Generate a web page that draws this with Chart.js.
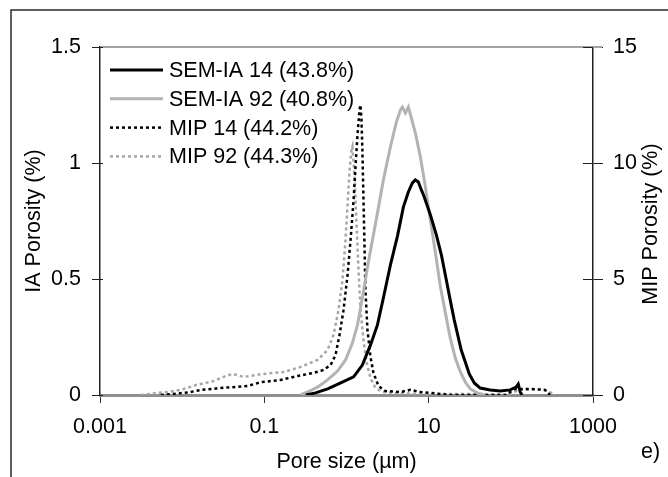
<!DOCTYPE html>
<html>
<head>
<meta charset="utf-8">
<script src="https://cdn.jsdelivr.net/npm/chart.js@4/dist/chart.umd.min.js"></script>
<style>
  html, body { margin: 0; padding: 0; background: #fff; }
  canvas { display: block; }
</style>
</head>
<body>
<canvas id="chart" width="668" height="477" style="width:668px;height:477px"></canvas>
<script>
// Pore size distributions: image analysis (left axis) and mercury intrusion (right axis)
const seriesNames = ['SEM-IA 14 (43.8%)', 'SEM-IA 92 (40.8%)', 'MIP 14 (44.2%)', 'MIP 92 (44.3%)'];

// SEM-IA 14: pore size (µm) / IA porosity (%)
const sem14Size  = [0.32, 0.42, 0.59, 0.85, 1.22, 1.56, 1.96, 2.38, 2.81, 3.42, 4.17, 4.92, 5.66, 6.34, 6.89, 7.49, 8.15, 8.7, 8.9, 10.5, 12.4, 14.3, 16.4, 18.3, 20.5, 22.3, 24.9, 27.9, 31.2, 35.9, 42.4, 56.1, 74.3, 98.2, 116, 123, 130, 137];
const sem14Value = [0, 0.009, 0.026, 0.052, 0.078, 0.129, 0.216, 0.302, 0.418, 0.560, 0.685, 0.810, 0.875, 0.914, 0.927, 0.918, 0.884, 0.86, 0.85, 0.776, 0.690, 0.603, 0.496, 0.409, 0.323, 0.267, 0.194, 0.142, 0.091, 0.052, 0.030, 0.022, 0.017, 0.022, 0.034, 0.047, 0.013, 0];

// SEM-IA 92
const sem92Size  = [0.276, 0.336, 0.444, 0.588, 0.778, 0.973, 1.18, 1.36, 1.56, 1.80, 2.07, 2.38, 2.81, 3.42, 4.05, 4.53, 4.79, 5.21, 5.66, 6.16, 6.89, 7.93, 9.12, 10.5, 12.1, 13.9, 16.0, 18.3, 21.1, 24.3, 27.9, 32.1, 39.0, 48.8];
const sem92Value = [0, 0.013, 0.034, 0.065, 0.103, 0.151, 0.224, 0.302, 0.418, 0.552, 0.668, 0.784, 0.927, 1.069, 1.177, 1.228, 1.241, 1.216, 1.241, 1.194, 1.129, 1.026, 0.897, 0.754, 0.612, 0.466, 0.353, 0.246, 0.159, 0.099, 0.056, 0.026, 0.009, 0];

// MIP 14: pore size (µm) / MIP porosity (%)
const mip14Size  = [0.0055, 0.0105, 0.0127, 0.0169, 0.0295, 0.0628, 0.0903, 0.158, 0.254, 0.397, 0.526, 0.640, 0.735, 0.822, 0.920, 1.03, 1.12, 1.22, 1.29, 1.36, 1.44, 1.48, 1.52, 1.56, 1.61, 1.66, 1.70, 1.80, 1.96, 2.13, 2.45, 2.98, 4.53, 5.99, 7.93, 10.5, 18.3, 85.3, 113, 172, 261, 300];
const mip14Value = [0, 0.09, 0.13, 0.22, 0.30, 0.39, 0.55, 0.65, 0.82, 0.95, 1.08, 1.29, 1.72, 2.59, 3.66, 5.17, 6.68, 8.41, 9.91, 11.2, 12.3, 12.5, 11.9, 10.6, 8.41, 6.25, 4.53, 2.80, 1.64, 0.95, 0.39, 0.17, 0.13, 0.22, 0.13, 0.09, 0, 0, 0.26, 0.26, 0.22, 0];

// MIP 92
const mip92Size  = [0.00315, 0.00506, 0.0067, 0.0096, 0.0147, 0.0243, 0.0339, 0.0412, 0.0561, 0.0982, 0.172, 0.276, 0.444, 0.588, 0.695, 0.800, 0.894, 0.973, 1.03, 1.09, 1.15, 1.18, 1.25, 1.32, 1.40, 1.48, 1.61, 1.75, 1.96, 2.25, 2.74, 3.93, 7.93, 32.1, 85.3, 130, 227, 285, 346];
const mip92Value = [0, 0.09, 0.13, 0.22, 0.43, 0.60, 0.82, 0.91, 0.78, 0.91, 0.99, 1.21, 1.51, 1.94, 2.59, 3.66, 4.96, 6.68, 8.19, 9.70, 10.56, 10.7, 9.48, 7.54, 5.39, 3.66, 2.37, 1.42, 0.73, 0.30, 0.13, 0.09, 0.04, 0.04, 0, 0.22, 0.26, 0.17, 0];

// Axis ticks and labels
const sizeTicks = [0.001, 0.1, 10, 1000];
const sizeTickLabels = ['0.001', '0.1', '10', '1000'];
const iaTicks = [0, 0.5, 1, 1.5];
const iaTickLabels = ['0', '0.5', '1', '1.5'];
const mipTicks = [0, 5, 10, 15];
const mipTickLabels = ['0', '5', '10', '15'];

const xTitle = 'Pore size (µm)';
const yTitle = 'IA Porosity (%)';
const y2Title = 'MIP Porosity (%)';
const panelLabel = 'e)';

const FONT = "'Liberation Sans', Arial, sans-serif";
const FONT_SIZE = 21.5;

function pairs(xs, ys) {
  return xs.map((x, i) => ({ x: x, y: ys[i] }));
}

const datasets = [
  { label: seriesNames[0], data: pairs(sem14Size, sem14Value), yAxisID: 'y',
    borderColor: '#000000', borderWidth: 3, borderDash: [] },
  { label: seriesNames[1], data: pairs(sem92Size, sem92Value), yAxisID: 'y',
    borderColor: '#b3b3b3', borderWidth: 3, borderDash: [] },
  { label: seriesNames[2], data: pairs(mip14Size, mip14Value), yAxisID: 'y2',
    borderColor: '#000000', borderWidth: 2.5, borderDash: [3, 3] },
  { label: seriesNames[3], data: pairs(mip92Size, mip92Value), yAxisID: 'y2',
    borderColor: '#a6a6a6', borderWidth: 2.5, borderDash: [3, 3] }
];
datasets.forEach(d => { d.pointRadius = 0; d.tension = 0; d.fill = false; });

// Frame, top border, inner tick halves, right-hand title, panel label and legend
const decor = {
  id: 'decor',
  beforeDraw(chart) {
    const ctx = chart.ctx;
    ctx.save();
    ctx.fillStyle = '#ffffff';
    ctx.fillRect(0, 0, chart.width, chart.height);
    ctx.strokeStyle = '#2a2a2a';
    ctx.lineWidth = 1.5;
    ctx.beginPath();
    ctx.moveTo(11, chart.height + 5);
    ctx.lineTo(11, 10);
    ctx.lineTo(chart.width + 5, 10);
    ctx.stroke();
    ctx.restore();
  },
  afterDraw(chart) {
    const ctx = chart.ctx;
    const a = chart.chartArea;
    const y = chart.scales.y;
    const y2 = chart.scales.y2;
    ctx.save();

    // top edge of the plot area
    ctx.strokeStyle = '#a3a3a3';
    ctx.lineWidth = 2;
    ctx.beginPath();
    ctx.moveTo(a.left, a.top);
    ctx.lineTo(a.right + 9, a.top);
    ctx.stroke();

    // inner halves of the value-axis tick marks
    ctx.strokeStyle = '#222';
    ctx.lineWidth = 1;
    iaTicks.forEach(v => {
      const py = Math.round(y.getPixelForValue(v)) + 0.5;
      ctx.beginPath(); ctx.moveTo(a.left, py); ctx.lineTo(a.left + 3, py); ctx.stroke();
    });
    mipTicks.forEach(v => {
      const py = Math.round(y2.getPixelForValue(v)) + 0.5;
      ctx.beginPath(); ctx.moveTo(a.right - 10, py); ctx.lineTo(a.right, py); ctx.stroke();
    });

    ctx.fillStyle = '#000';
    ctx.font = FONT_SIZE + 'px ' + FONT;

    // right axis title, reading upwards
    ctx.save();
    ctx.translate(651, (a.top + a.bottom) / 2 + 3);
    ctx.rotate(-Math.PI / 2);
    ctx.textAlign = 'center';
    ctx.textBaseline = 'middle';
    ctx.fillText(y2Title, 0, 0);
    ctx.restore();

    // panel label
    ctx.textAlign = 'left';
    ctx.textBaseline = 'middle';
    ctx.fillText(panelLabel, 641, 452);

    // legend
    const rowY0 = 70, rowGap = 28.8, x0 = 110, x1 = 163, tx = 169;
    chart.data.datasets.forEach((d, i) => {
      const ry = rowY0 + i * rowGap;
      ctx.strokeStyle = d.borderColor;
      ctx.lineWidth = d.borderWidth;
      ctx.setLineDash(d.borderDash || []);
      ctx.beginPath();
      ctx.moveTo(x0, ry);
      ctx.lineTo(x1, ry);
      ctx.stroke();
      ctx.setLineDash([]);
      ctx.fillStyle = '#000';
      ctx.fillText(d.label, tx, ry + 1);
    });
    ctx.restore();
  }
};

Chart.defaults.font.family = FONT;
Chart.defaults.font.size = FONT_SIZE;
Chart.defaults.color = '#000';

new Chart(document.getElementById('chart'), {
  type: 'line',
  data: { datasets: datasets },
  options: {
    responsive: false,
    animation: false,
    devicePixelRatio: 1,
    layout: { padding: { top: 47, left: 0, right: 0, bottom: 0 } },
    plugins: { legend: { display: false }, tooltip: { enabled: false } },
    scales: {
      x: {
        type: 'logarithmic',
        position: 'bottom',
        min: 0.001,
        max: 1000,
        border: { display: true, color: '#8f8f8f', width: 3 },
        grid: { drawOnChartArea: false, drawTicks: true, tickLength: 8, color: '#333', lineWidth: 1 },
        afterBuildTicks: s => { s.ticks = sizeTicks.map(v => ({ value: v })); },
        ticks: {
          padding: 11,
          autoSkip: false,
          maxRotation: 0,
          callback: (v) => { const k = sizeTicks.indexOf(v); return k >= 0 ? sizeTickLabels[k] : ''; }
        },
        afterFit: s => { s.height = 82; },
        title: { display: true, text: xTitle, padding: { top: 0, bottom: 2 } }
      },
      y: {
        position: 'left',
        min: 0,
        max: 1.5,
        border: { display: true, color: '#222', width: 1.5 },
        grid: { drawOnChartArea: false, drawTicks: true, tickLength: 8, color: '#222', lineWidth: 1 },
        afterBuildTicks: s => { s.ticks = iaTicks.map(v => ({ value: v })); },
        ticks: {
          padding: 11,
          callback: (v) => { const k = iaTicks.indexOf(v); return k >= 0 ? iaTickLabels[k] : ''; }
        },
        afterFit: s => { s.width = 100; },
        title: { display: true, text: yTitle, padding: { top: 21, bottom: 0 } }
      },
      y2: {
        position: 'right',
        min: 0,
        max: 15,
        border: { display: true, color: '#222', width: 1.5 },
        grid: { drawOnChartArea: false, drawTicks: true, tickLength: 10, color: '#222', lineWidth: 1 },
        afterBuildTicks: s => { s.ticks = mipTicks.map(v => ({ value: v })); },
        ticks: {
          padding: 10,
          callback: (v) => { const k = mipTicks.indexOf(v); return k >= 0 ? mipTickLabels[k] : ''; }
        },
        afterFit: s => { s.width = 75; }
      }
    }
  },
  plugins: [decor]
});
</script>
</body>
</html>
